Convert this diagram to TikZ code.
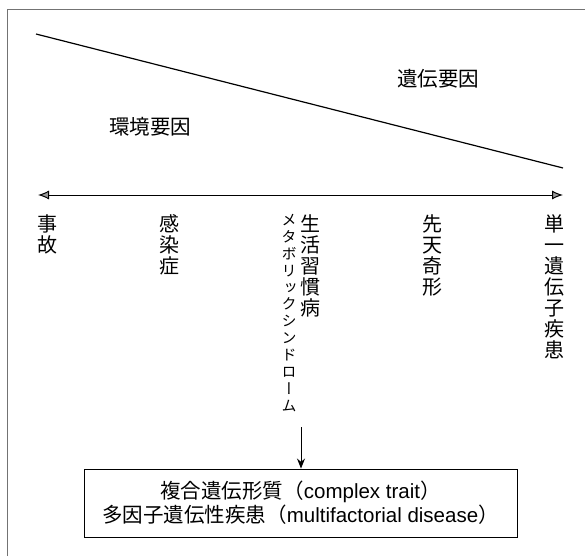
\documentclass[tikz,border=0pt]{standalone}
\usepackage{fontspec}
\setmainfont{Liberation Sans}
\newfontfamily\jp{Noto Sans CJK JP}
\newfontfamily\jpv[RawFeature=+vert]{Noto Sans CJK JP}
\usetikzlibrary{arrows.meta}
\begin{document}
\begin{tikzpicture}[x=1pt,y=-1pt,
  vcol/.style={font=\jp\fontsize{20}{21}\selectfont, align=center, inner sep=0pt, anchor=north},
  kcol/.style={font=\jpv\fontsize{15}{16.9}\selectfont, align=center, inner sep=0pt, anchor=north},
  lab/.style={font=\jp\fontsize{20.5}{24}\selectfont, inner sep=0pt},
  frame/.style={draw=black!55, line width=0.8pt},
  dbl/.style={line width=1pt, {Latex[length=11pt,width=9pt,fill=black!40]}-{Latex[length=11pt,width=9pt,fill=black!40]}}]
\useasboundingbox (0,0) rectangle (585,556);
\draw[frame] (7,556) -- (7,9) -- (585,9);
% diagonal
\coordinate (d1) at (36,34);
\coordinate (d2) at (563,168);
\draw[line width=1.2pt] (d1) -- (d2);
\node[lab] (gen) at (438,79) {遺伝要因};
\node[lab] (env) at (150,127) {環境要因};
% double arrow
\coordinate (aL) at (38,195);
\coordinate (aR) at (563,195);
\draw[dbl] (aL) -- (aR);
% columns
\node[vcol] (c1) at (47,214) {事\\故};
\node[vcol] (c2) at (169,214) {感\\染\\症};
\node[vcol] (c3) at (310,214) {生\\活\\習\\慣\\病};
\node[kcol] (c3b) at (289,214) {メ\\タ\\ボ\\リ\\ッ\\ク\\シ\\ン\\ド\\ロ\\ー\\ム};
\node[vcol] (c4) at (432,214) {先\\天\\奇\\形};
\node[vcol] (c5) at (554,214) {単\\一\\遺\\伝\\子\\疾\\患};
% box
\node[draw, line width=0.9pt, minimum width=433pt, minimum height=68pt, align=center,
      font=\fontsize{20.5}{24}\selectfont, inner sep=0pt] (box) at (300.5,503)
  {{\jp 複合遺伝形質（}complex trait{\jp ）}\\{\jp 多因子遺伝性疾患（}multifactorial disease{\jp ）}};
\coordinate (dn) at (301,427);
\draw[line width=1pt, -{Stealth[length=10pt,width=8pt]}] (dn) -- (dn |- box.north);
\end{tikzpicture}
\end{document}
